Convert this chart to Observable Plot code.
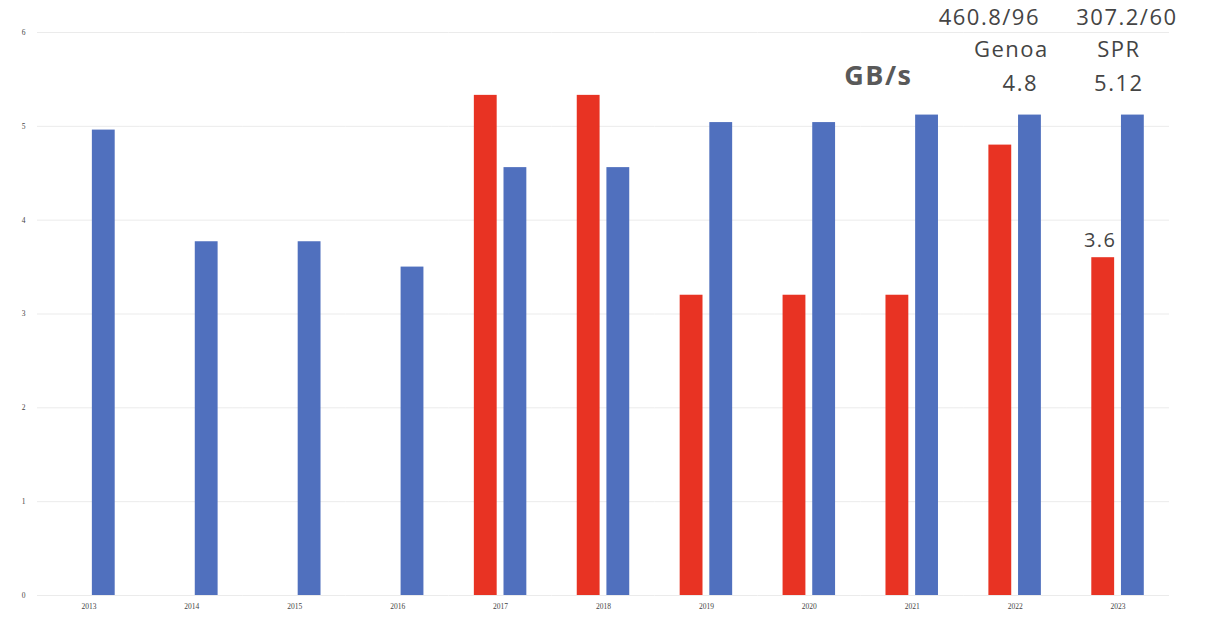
<!DOCTYPE html>
<html>
<head>
<meta charset="utf-8">
<script src="https://cdn.jsdelivr.net/npm/d3@7"></script>
<script src="https://cdn.jsdelivr.net/npm/@observablehq/plot@0.6"></script>
<style>
  html, body { margin: 0; padding: 0; background: #fff; }
  #chart svg g[aria-label="text"] text { letter-spacing: 1.5px; }
</style>
</head>
<body>
<div id="chart"></div>
<script>
// ---- data ----
const years = [2013, 2014, 2015, 2016, 2017, 2018, 2019, 2020, 2021, 2022, 2023];
const seriesNames = ["AMD", "Intel"];
const amdValues   = [null, null, null, null, 5.33, 5.33, 3.2, 3.2, 3.2, 4.8, 3.6];
const intelValues = [4.96, 3.77, 3.77, 3.5, 4.56, 4.56, 5.04, 5.04, 5.12, 5.12, 5.12];
const yTicks = [0, 1, 2, 3, 4, 5, 6];

// annotations (text, anchored to a year / series / value)
const annoTexts  = ["460.8/96", "Genoa", "4.8", "307.2/60", "SPR", "5.12", "3.6", "GB/s"];
const annoYears  = [2022, 2022, 2022, 2023, 2023, 2023, 2023, 2021];
const annoSeries = ["AMD", "AMD", "AMD", "Intel", "Intel", "Intel", "AMD", "AMD"];
const annoValues = [6.15, 5.81, 5.45, 6.15, 5.81, 5.45, 3.78, 5.53];

// ---- build tables ----
const rows = [];
years.forEach((yr, i) => {
  if (amdValues[i] != null) rows.push({year: yr, series: "AMD", value: amdValues[i]});
  if (intelValues[i] != null) rows.push({year: yr, series: "Intel", value: intelValues[i]});
});

const annoDx   = [-11, 11, 20, -6, -14, -14, -3, -19];
const annoSize = [22, 22, 22, 22, 22, 22, 20, 27];
const annos = annoTexts.map((t, i) => ({
  text: t, year: annoYears[i], series: annoSeries[i], value: annoValues[i],
  dx: annoDx[i], size: annoSize[i], bold: t === "GB/s"
}));

const normal = annos.filter(d => !d.bold);
const bold = annos.filter(d => d.bold);

const plot = Plot.plot({
  width: 1206,
  height: 620,
  marginTop: 32,
  marginBottom: 25,
  marginLeft: 37,
  marginRight: 37,
  style: {background: "#fff", fontFamily: "Liberation Serif", fontSize: "7.5px", color: "#444"},
  fx: {domain: years, padding: 0, round: false, label: null, tickSize: 0, tickPadding: 8, axis: "bottom", tickFormat: d => String(d)},
  x: {domain: seriesNames, paddingInner: 0.23, paddingOuter: 0.85, round: false, axis: null},
  y: {domain: [0, 6], ticks: yTicks, tickSize: 0, tickPadding: 12, label: null, tickFormat: d => String(d)},
  color: {domain: seriesNames, range: ["#E83323", "#5070BE"]},
  marks: [
    Plot.ruleY(yTicks, {stroke: "#ebebeb", strokeWidth: 1}),
    Plot.barY(rows, {fx: "year", x: "series", y: "value", fill: "series"}),
    ...normal.map(d => Plot.text([d], {
      fx: "year", x: "series", y: "value", text: "text",
      dx: d.dx, fontSize: d.size, fill: "#444", fontFamily: "Open Sans"
    })),
    ...bold.map(d => Plot.text([d], {
      fx: "year", x: "series", y: "value", text: "text",
      dx: d.dx, fontSize: d.size, fontWeight: "bold", fill: "#595959", fontFamily: "Open Sans"
    }))
  ]
});

document.getElementById("chart").appendChild(plot);
</script>
</body>
</html>
